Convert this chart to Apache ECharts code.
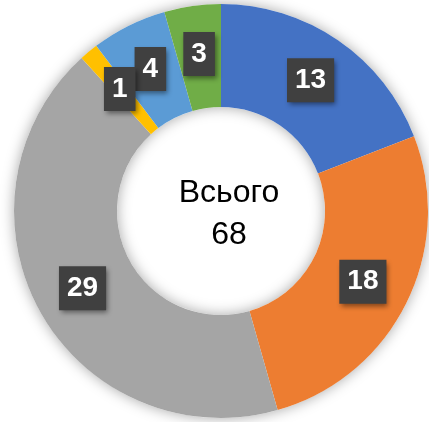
<!DOCTYPE html>
<html><head><meta charset="utf-8">
<script src="https://cdn.jsdelivr.net/npm/echarts@6/dist/echarts.min.js"></script>
<style>html,body{margin:0;padding:0;background:#fff}#c{width:429px;height:422px}</style>
</head><body><div id="c"></div>
<script>
const categories = ['Категорія 1','Категорія 2','Категорія 3','Категорія 4','Категорія 5','Категорія 6'];
const values = [13, 18, 29, 1, 4, 3];
const colors = ['#4472C4','#ED7D31','#A5A5A5','#FFC000','#5B9BD5','#70AD47'];
const centerLabel = 'Всього';
const total = values.reduce((a,b)=>a+b,0);
const topLabelIndex = 3;

const labelStyle = {
  show:true, position:'inside', formatter:'{c}', color:'#fff',
  fontFamily:'Liberation Sans', fontWeight:'bold', fontSize:28, lineHeight:28,
  backgroundColor:'#404040', padding:[8,8,8,8],
  shadowColor:'rgba(0,0,0,0.45)', shadowBlur:5, shadowOffsetX:2, shadowOffsetY:3
};

const chart = echarts.init(document.getElementById('c'), null, {renderer:'canvas'});
chart.setOption({
  animation:false,
  graphic:[{
    type:'text', x:229, y:214, z:10,
    style:{text: centerLabel + '\n' + total, fill:'#000', font:'32px "Liberation Sans"', lineHeight:42, align:'center', verticalAlign:'middle'}
  }],
  series:[
    {
      type:'pie', silent:true, center:[221,211], radius:[104,207], label:{show:false},
      data:[{value:1, itemStyle:{color:'#fff', shadowBlur:14, shadowColor:'rgba(0,0,0,0.35)'}}], z:1
    },
    {
      type:'pie', center:[221,211], radius:[104,207], startAngle:90, clockwise:true,
      avoidLabelOverlap:false, z:2, labelLayout:{hideOverlap:false},
      data: categories.map((n,i)=>({name:n, value:values[i], itemStyle:{color:colors[i]},
        label: i===topLabelIndex ? {show:false} : {show:true}})),
      label: labelStyle,
      labelLine:{show:false}
    },
    {
      type:'pie', silent:true, center:[221,211], radius:[104,207], startAngle:90, clockwise:true,
      avoidLabelOverlap:false, z:3, labelLayout:{hideOverlap:false},
      data: categories.map((n,i)=>({name:n, value:values[i], itemStyle:{color:'rgba(0,0,0,0)'},
        label: {show: i===topLabelIndex}})),
      label: labelStyle,
      labelLine:{show:false}
    }
  ]
});
</script></body></html>
